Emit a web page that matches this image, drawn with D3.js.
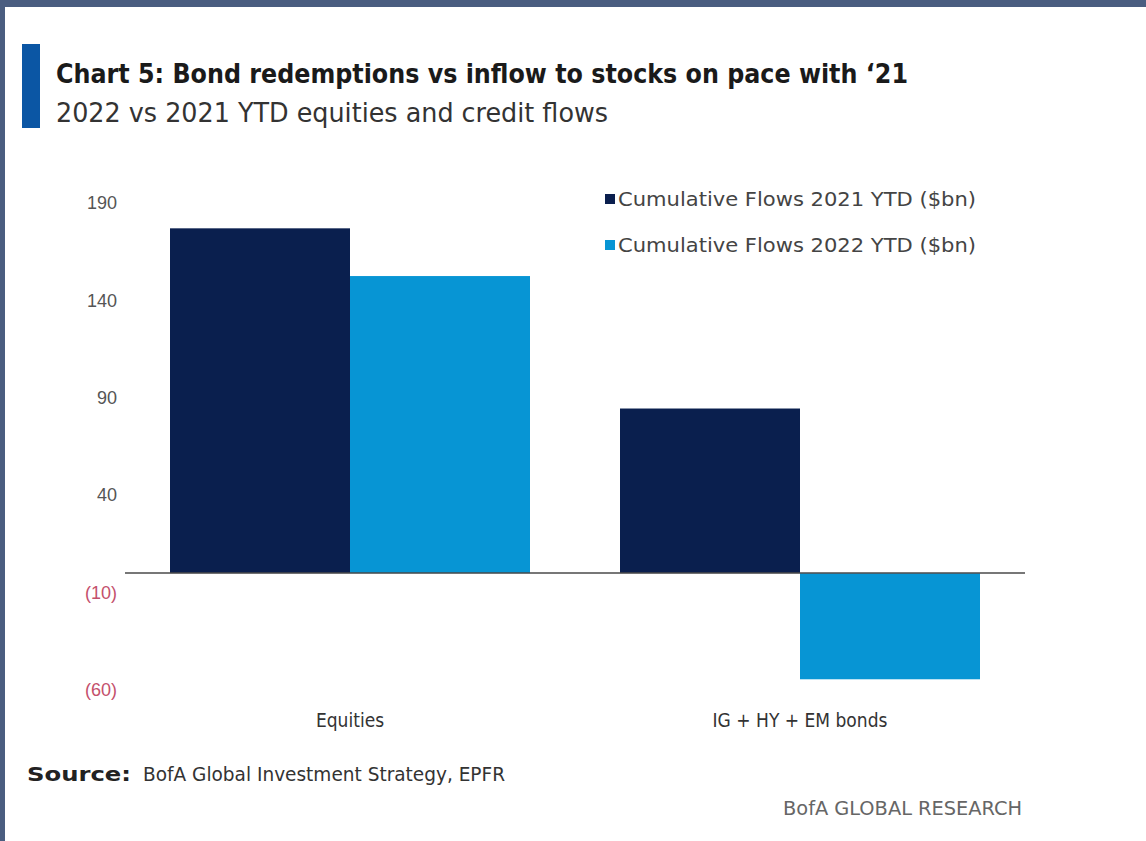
<!DOCTYPE html>
<html>
<script src="https://cdnjs.cloudflare.com/ajax/libs/d3/7.8.5/d3.min.js"></script>

<head>
    <style>
        body {
            margin: 0;
            background-color: #ffffff;
            font-family: "DejaVu Sans Condensed", "DejaVu Sans", sans-serif;
        }

        svg {
            display: block;
        }

        svg text {
            font-stretch: condensed;
        }
    </style>
</head>

<body>
    <div id="vis"></div>
</body>
<script>
    const categories = ["Equities", "IG + HY + EM bonds"];
    const seriesNames = ["Cumulative Flows 2021 YTD ($bn)", "Cumulative Flows 2022 YTD ($bn)"];
    const flows2021 = [177, 84.5];
    const flows2022 = [152.5, -54.5];
    const yTicks = [190, 140, 90, 40, -10, -60];

    const width = 1146,
        height = 841;
    const colors = ["#0a1f4e", "#0795d4"];

    const svg = d3.select("#vis").append("svg").attr("width", width).attr("height", height);

    // frame around the picture
    svg.append("rect").attr("x", 0).attr("y", 0).attr("width", width).attr("height", 7).attr("fill", "#4a5d80");
    svg.append("rect").attr("x", 0).attr("y", 0).attr("width", 5).attr("height", height).attr("fill", "#4a5d80");

    // title block
    svg.append("rect").attr("x", 22).attr("y", 44).attr("width", 18).attr("height", 84).attr("fill", "#0b56a4");
    svg.append("text")
        .attr("x", 56).attr("y", 83)
        .attr("font-size", 26).attr("font-weight", "bold").attr("fill", "#1a1a1a")
        .attr("textLength", 852).attr("lengthAdjust", "spacingAndGlyphs")
        .text("Chart 5: Bond redemptions vs inflow to stocks on pace with \u201821");
    svg.append("text")
        .attr("x", 56).attr("y", 122)
        .attr("font-size", 26).attr("fill", "#333")
        .attr("textLength", 552).attr("lengthAdjust", "spacingAndGlyphs")
        .text("2022 vs 2021 YTD equities and credit flows");

    const data = categories.map((c, i) => ({ category: c, values: [flows2021[i], flows2022[i]] }));

    const x0 = d3.scaleBand().domain(categories).range([125, 1025]).paddingInner(0.2).paddingOuter(0.1);
    const x1 = d3.scaleBand().domain([0, 1]).range([0, x0.bandwidth()]);
    const y = d3.scaleLinear().domain([-60, 190]).range([690, 203]);

    // y axis labels
    const yAxis = svg.append("g")
        .attr("transform", "translate(120,0)")
        .call(d3.axisLeft(y).tickValues(yTicks).tickSize(0).tickPadding(3)
            .tickFormat(d => d < 0 ? `(${-d})` : d));
    yAxis.select(".domain").remove();
    yAxis.selectAll("text")
        .attr("font-size", 18)
        .attr("font-family", null)
        .attr("fill", d => d < 0 ? "#c4506c" : "#555");

    // bars
    const groups = svg.append("g").selectAll("g")
        .data(data)
        .join("g")
        .attr("transform", d => `translate(${x0(d.category)},0)`);
    groups.selectAll("rect")
        .data(d => d.values.map((v, i) => ({ v, i })))
        .join("rect")
        .attr("x", d => x1(d.i))
        .attr("width", x1.bandwidth())
        .attr("y", d => y(Math.max(0, d.v)))
        .attr("height", d => Math.abs(y(d.v) - y(0)))
        .attr("fill", d => colors[d.i]);

    // zero line
    svg.append("line")
        .attr("x1", 125).attr("x2", 1025)
        .attr("y1", y(0)).attr("y2", y(0))
        .attr("stroke", "#4a4a4a").attr("stroke-width", 1.5);

    // category labels
    svg.append("g").selectAll("text")
        .data(categories)
        .join("text")
        .attr("x", d => x0(d) + x0.bandwidth() / 2)
        .attr("y", 727)
        .attr("text-anchor", "middle")
        .attr("font-size", 19)
        .attr("fill", "#333")
        .text(d => d);

    // legend
    const legend = svg.append("g").selectAll("g")
        .data(seriesNames)
        .join("g")
        .attr("transform", (d, i) => `translate(605,${199 + i * 46})`);
    legend.append("rect")
        .attr("x", 0).attr("y", -5).attr("width", 10).attr("height", 10)
        .attr("fill", (d, i) => colors[i]);
    legend.append("text")
        .attr("x", 13).attr("y", 0)
        .attr("dominant-baseline", "central")
        .attr("font-size", 20)
        .attr("fill", "#444")
        .attr("textLength", 358).attr("lengthAdjust", "spacingAndGlyphs")
        .text(d => d);

    // source and branding
    svg.append("text")
        .attr("x", 27).attr("y", 781)
        .attr("font-size", 20).attr("font-weight", "bold").attr("fill", "#222")
        .attr("textLength", 104).attr("lengthAdjust", "spacingAndGlyphs")
        .text("Source:");
    svg.append("text")
        .attr("x", 143).attr("y", 781)
        .attr("font-size", 19).attr("fill", "#333")
        .attr("textLength", 362).attr("lengthAdjust", "spacingAndGlyphs")
        .text("BofA Global Investment Strategy, EPFR");
    svg.append("text")
        .attr("x", 1022).attr("y", 815)
        .attr("text-anchor", "end")
        .attr("font-size", 20).attr("fill", "#666")
        .attr("textLength", 239).attr("lengthAdjust", "spacingAndGlyphs")
        .text("BofA GLOBAL RESEARCH");
</script>

</html>
